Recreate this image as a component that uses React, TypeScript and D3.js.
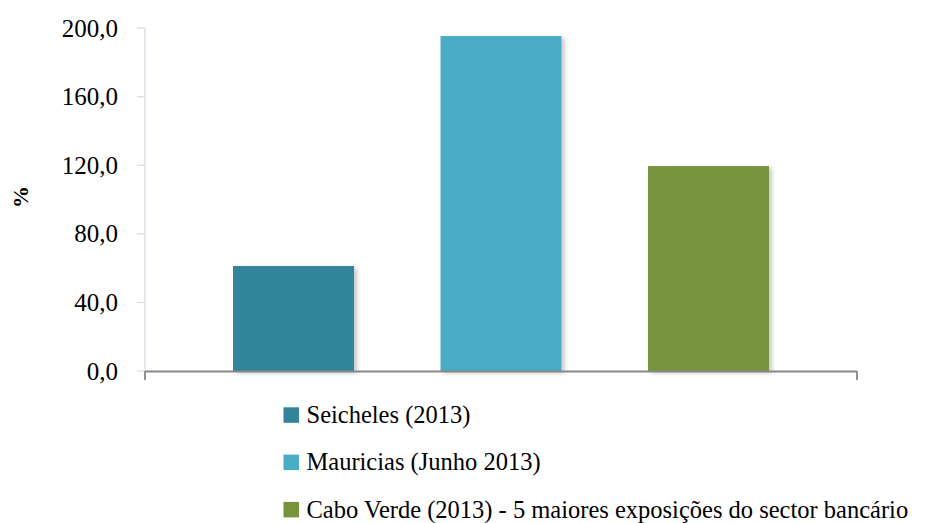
import React from "react";
import * as d3 from "d3";

const categories = ["Seicheles (2013)", "Mauricias (Junho 2013)", "Cabo Verde (2013) - 5 maiores exposições do sector bancário"];
const values = [61.2, 195.3, 119.5];
const colors = ["#31849B", "#4BACC6", "#77933C"];
const yTicks = [0, 40, 80, 120, 160, 200];

const W = 952;
const H = 523;

export default function App() {
  const x = d3.scaleBand<string>().domain(categories).range([145, 857]).paddingInner(0.417).paddingOuter(0.424);
  const y = d3.scaleLinear().domain([0, 200]).range([371, 28]);
  const fmt = (v: number) => v.toFixed(1).replace(".", ",");

  return (
    <svg width={W} height={H} style={{ position: "absolute", left: 0, top: 0, background: "#fff" }}>
      <style>{`.ser { font-family: "Liberation Serif", "Tinos", "Times New Roman", serif !important; }`}</style>
      <defs>
        <filter id="sh" x="-10%" y="-10%" width="130%" height="120%">
          <feDropShadow dx="3" dy="2" stdDeviation="2" floodColor="#000" floodOpacity="0.22" />
        </filter>
      </defs>
      <line x1={145} x2={145} y1={y(200)} y2={y(0)} stroke="#D9E2EF" strokeWidth={1.5} />
      {yTicks.map((t) => (
        <line key={"k" + t} x1={137} x2={145} y1={y(t)} y2={y(t)} stroke="#D9E2EF" strokeWidth={1.5} />
      ))}
      {yTicks.map((t) => (
        <text key={"t" + t} className="ser" x={118} y={y(t) + 8.5} textAnchor="end" fontSize={25} fill="#000">
          {fmt(t)}
        </text>
      ))}
      <text className="ser" transform="translate(28,197) rotate(-90)" textAnchor="middle" fontSize={22} fontWeight="bold">
        %
      </text>
      {categories.map((c, i) => (
        <rect key={c} x={x(c)} y={y(values[i])} width={x.bandwidth()} height={y(0) - y(values[i])} fill={colors[i]} filter="url(#sh)" />
      ))}
      <line x1={145} x2={857} y1={371.5} y2={371.5} stroke="#878787" strokeWidth={1.8} />
      <line x1={145} x2={145} y1={371} y2={380} stroke="#878787" strokeWidth={1.8} />
      <line x1={857} x2={857} y1={371} y2={380} stroke="#878787" strokeWidth={1.8} />
      {categories.map((c, i) => (
        <rect key={"r" + c} x={283.5} y={415 + i * 47.3 - 7.7} width={15.5} height={15.5} fill={colors[i]} />
      ))}
      {categories.map((c, i) => (
        <text key={"l" + c} className="ser" x={306.5} y={415 + i * 47.3 + 8} fontSize={24.5} fill="#000">
          {c}
        </text>
      ))}
    </svg>
  );
}
